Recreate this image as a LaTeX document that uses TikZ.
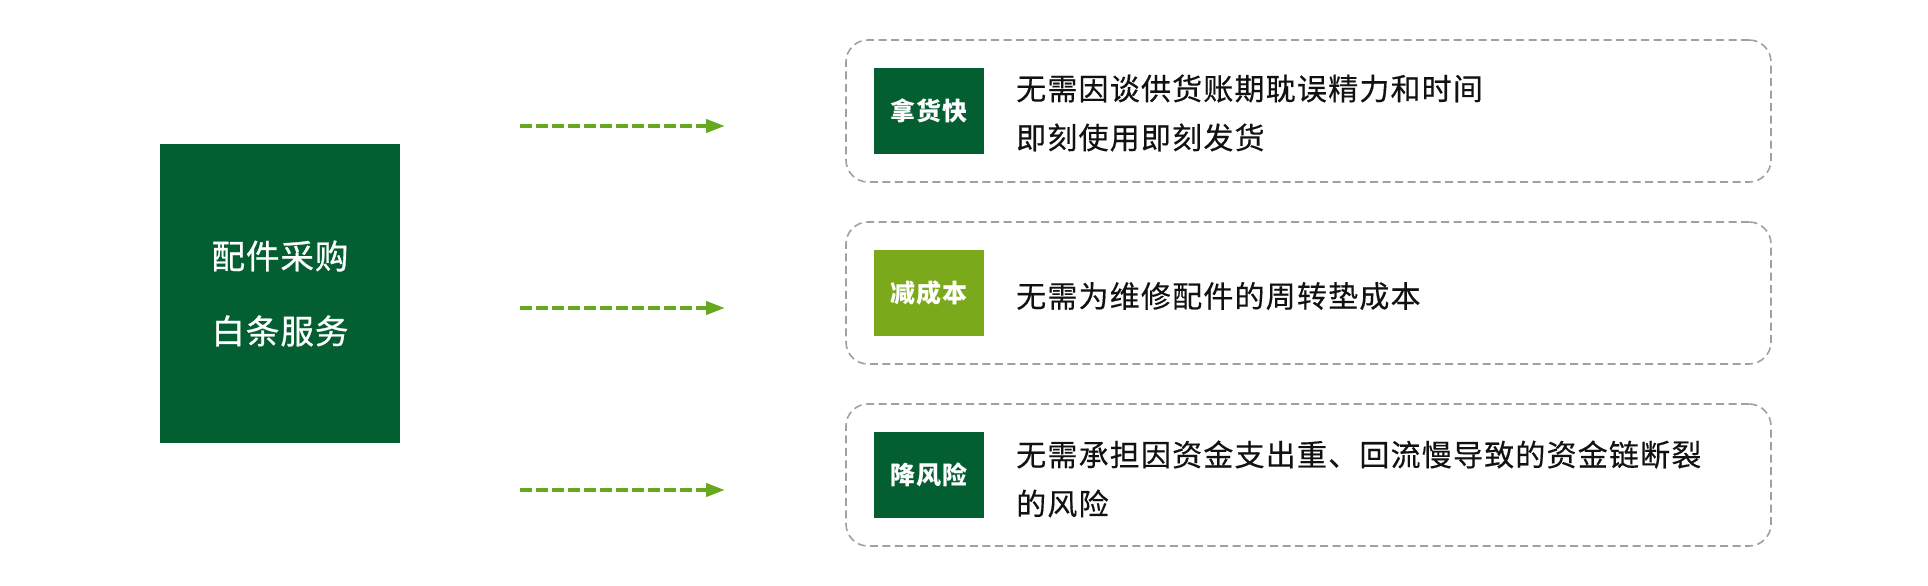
\documentclass[tikz,border=0pt]{standalone}
\usepackage{fontspec}
\usetikzlibrary{arrows.meta}
\newfontfamily\cjkbody[LetterSpace=4,FakeBold=0.4]{Noto Sans CJK SC}
\newfontfamily\cjkmain[LetterSpace=3,FakeBold=0.8]{Noto Sans CJK SC}
\newfontfamily\cjklab[LetterSpace=3]{Noto Sans CJK SC}
\definecolor{dkgreen}{HTML}{035F31}
\definecolor{ltgreen}{HTML}{7AAA1C}
\definecolor{arrgreen}{HTML}{67A81E}
\definecolor{boxgray}{HTML}{A0A0A0}
\definecolor{txt}{HTML}{111111}
\tikzset{
  mainbox/.style={fill=dkgreen, text=white, minimum width=240pt, minimum height=299pt, inner sep=0pt, align=center, font=\cjkmain\fontsize{33.5}{75}\selectfont},
  dbox/.style={draw=boxgray, line width=1.6pt, dash pattern=on 8pt off 4.5pt, rounded corners=22pt, minimum width=925pt, minimum height=142pt, inner sep=0pt},
  lab/.style={text=white, minimum width=110pt, minimum height=86pt, inner sep=0pt, font=\cjklab\bfseries\fontsize{25}{30}\selectfont},
  body/.style={anchor=west, align=left, text=txt, inner sep=0pt, font=\cjkbody\fontsize{30}{49}\selectfont},
  arr/.style={draw=arrgreen, line width=4pt, dash pattern=on 12pt off 4pt, -{Triangle[length=19pt,width=13pt]}}
}
\begin{document}
\begin{tikzpicture}[x=1pt,y=-1pt]
\useasboundingbox (0,0) rectangle (1928,586);
\node[mainbox] (main) at (280,293.5) {配件采购\\白条服务};
% arrows
\coordinate (s1) at (520,126);
\coordinate (e1) at (725,126);
\coordinate (s2) at (520,308);
\coordinate (e2) at (725,308);
\coordinate (s3) at (520,490);
\coordinate (e3) at (725,490);
\draw[arr] (s1) -- (e1);
\draw[arr] (s2) -- (e2);
\draw[arr] (s3) -- (e3);
% boxes
\node[dbox] (b1) at (1308.5,111) {};
\node[dbox] (b2) at (1308.5,293) {};
\node[dbox] (b3) at (1308.5,475) {};
\node[lab, fill=dkgreen] (l1) at (929,111) {拿货快};
\node[lab, fill=ltgreen] (l2) at (929,293) {减成本};
\node[lab, fill=dkgreen] (l3) at (929,475) {降风险};
\node[body] (t1) at (1016,113) {无需因谈供货账期耽误精力和时间\\即刻使用即刻发货};
\node[body] (t2) at (1016,296) {无需为维修配件的周转垫成本};
\node[body] (t3) at (1016,479) {无需承担因资金支出重、回流慢导致的资金链断裂\\的风险};
\end{tikzpicture}
\end{document}
